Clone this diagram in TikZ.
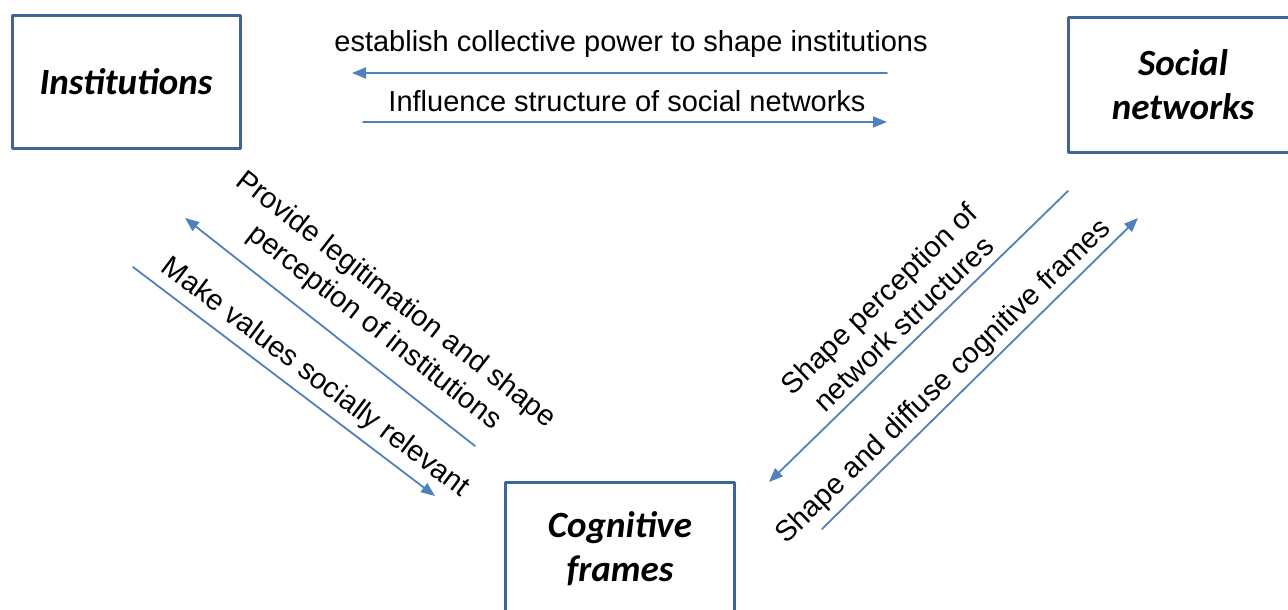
\documentclass[tikz,border=0pt]{standalone}
\usepackage{fontspec}
\setmainfont{Liberation Sans}
\newfontfamily\boxfont{Carlito}
\usepackage{xcolor}
\usetikzlibrary{arrows.meta}

\definecolor{boxblue}{HTML}{3F6597}
\definecolor{arrowblue}{HTML}{4F81BD}

\begin{document}
\begin{tikzpicture}[line cap=round,line join=round,x=1pt,y=-1pt,
  >={Triangle[length=14pt,width=11pt]},
  bigbox/.style={draw=boxblue,line width=3pt,minimum width=228pt,minimum height=133pt,align=center,font=\boxfont\bfseries\itshape\fontsize{37}{44}\selectfont},
  lbl/.style={align=center,font=\fontsize{29}{35}\selectfont},
  link/.style={draw=arrowblue,line width=1.8pt,->}]
\useasboundingbox (0,0) rectangle (1288,610);
\node[bigbox] (inst) at (126,82) {Institutions};
\node[bigbox,minimum width=230pt,minimum height=134pt] (soc) at (1183,85) {Social\\networks};
\node[bigbox,minimum width=229pt,minimum height=134pt] (cog) at (620,549) {Cognitive\\frames};
% top arrows
\coordinate (a1) at (887,73);
\coordinate (a2) at (352,73);
\coordinate (b1) at (363,122);
\coordinate (b2) at (887,122);
\draw[link] (a1) -- (a2);
\draw[link] (b1) -- (b2);
\node[lbl,anchor=base] (estab) at (631,52) {establish collective power to shape institutions};
\node[lbl,anchor=base] (infl) at (627,111) {Influence structure of social networks};
% left arrows
\coordinate (c1) at (475,446);
\coordinate (c2) at (185,218);
\coordinate (d1) at (133,267);
\coordinate (d2) at (435,496);
\draw[link] (c1) -- (c2);
\draw[link] (d1) -- (d2);
\node[lbl,rotate=-38] (prov) at (385,314) {Provide legitimation and shape\\perception of institutions};
\node[lbl,rotate=-37] (make) at (315,378) {Make values socially relevant};
% right arrows
\coordinate (e1) at (1068,191);
\coordinate (e2) at (769,482);
\coordinate (f1) at (822,529);
\coordinate (f2) at (1138,218);
\draw[link] (e1) -- (e2);
\draw[link] (f1) -- (f2);
\node[lbl,rotate=44] (perc) at (891,311) {Shape perception of\\network structures};
\node[lbl,rotate=44] (diff) at (944,382) {Shape and diffuse cognitive frames};
\end{tikzpicture}
\end{document}
